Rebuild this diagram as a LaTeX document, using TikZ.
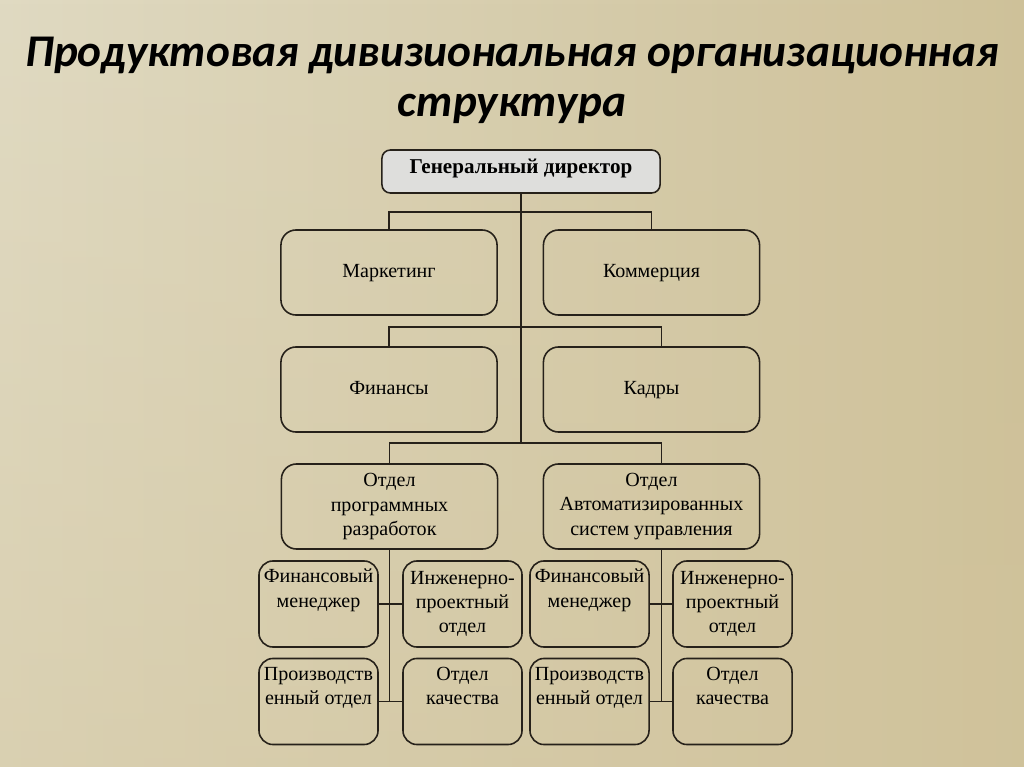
\documentclass[tikz,border=0pt]{standalone}
\usepackage{fontspec}
\setmainfont{Liberation Serif}
\newfontfamily\titlefont{Carlito}
\usetikzlibrary{fadings}

\definecolor{bgleft}{RGB}{224,218,194}
\definecolor{bgmid}{RGB}{239,234,216}
\definecolor{bgright}{RGB}{206,193,153}
\definecolor{bgbottom}{RGB}{210,196,157}
\definecolor{linec}{RGB}{38,33,26}
\definecolor{chieffill}{RGB}{222,222,220}

\tikzset{
  unit/.style={draw=linec, line width=0.45pt, align=center, inner sep=0pt,
    font=\fontsize{5.7}{6.9}\selectfont},
  bigbox/.style={unit, rounded corners=4.3pt, minimum width=2.16cm, minimum height=0.85cm},
  smallbox/.style={unit, rounded corners=4pt, minimum width=1.19cm, minimum height=0.86cm},
  chief/.style={unit, fill=chieffill, rounded corners=2.4pt, minimum width=2.78cm,
    minimum height=0.43cm, text depth=3pt, font=\fontsize{6}{7}\selectfont\bfseries},
  link/.style={draw=linec, line width=0.45pt},
  heading/.style={anchor=base, inner sep=0pt,
    font=\titlefont\fontsize{12.9}{14.2}\selectfont\bfseries\itshape}
}

\begin{document}
\begin{tikzpicture}[x=0.01cm,y=-0.01cm]
        % background
        \useasboundingbox (0,0) rectangle (1024,767);
        \shade[left color=bgleft, middle color=bgmid, right color=bgright] (0,0) rectangle (1024,767);
        \fill[bgbottom, fill opacity=0.45, path fading=north] (0,0) rectangle (1024,767);

        % title
        \node[heading] (title1) at (512,67) {Продуктовая дивизиональная организационная};
        \node[heading] (title2) at (512,117) {структура};

        % boxes
        \node[chief] (chief) at (521,171.5) {Генеральный директор};

        \node[bigbox] (mark) at (389,272.5) {\strut Маркетинг};
        \node[bigbox] (comm) at (651.5,272.5) {\strut Коммерция};
        \node[bigbox] (fin) at (389,389.5) {\strut Финансы};
        \node[bigbox] (hr) at (651.5,389.5) {\strut Кадры};
        \node[bigbox] (soft) at (389.5,506.5) {Отдел\\программных\\разработок};
        \node[bigbox] (asu) at (651.5,506.5) {Отдел\\Автоматизированных\\систем управления};

        %% left division
        \node[smallbox] (fm1) at (318.5,604) {Финансовый\\менеджер\\\strut};
        \node[smallbox] (eng1) at (462.5,604) {Инженерно-\\проектный\\отдел};
        \node[smallbox] (prod1) at (318.5,701.5) {Производств\\енный отдел\\\strut};
        \node[smallbox] (qual1) at (462.5,701.5) {Отдел\\качества\\\strut};

        %% right division
        \node[smallbox] (fm2) at (589.5,604) {Финансовый\\менеджер\\\strut};
        \node[smallbox] (eng2) at (732.5,604) {Инженерно-\\проектный\\отдел};
        \node[smallbox] (prod2) at (589.5,701.5) {Производств\\енный отдел\\\strut};
        \node[smallbox] (qual2) at (732.5,701.5) {Отдел\\качества\\\strut};

        % connectors
        \coordinate (bus1) at (521,212);
        \coordinate (bus2) at (521,327);
        \coordinate (bus3) at (521,443);

        \draw[link] (chief.south) -- (bus3);
        \draw[link] (mark.north) |- (bus1) -| (comm.north);
        \draw[link] (fin.north) |- (bus2) -| ([xshift=0.1cm]hr.north);
        \draw[link] (soft.north) |- (bus3) -| ([xshift=0.1cm]asu.north);

        %% inside the divisions
        \draw[link] (soft.south) -- (soft.south |- prod1.east);
        \draw[link] (fm1.east) -- (eng1.west);
        \draw[link] (prod1.east) -- (qual1.west);

        \draw[link] ([xshift=0.1cm]asu.south) -- ([xshift=0.1cm]asu.south |- prod2.east);
        \draw[link] (fm2.east) -- (eng2.west);
        \draw[link] (prod2.east) -- (qual2.west);
    \end{tikzpicture}
\end{document}
